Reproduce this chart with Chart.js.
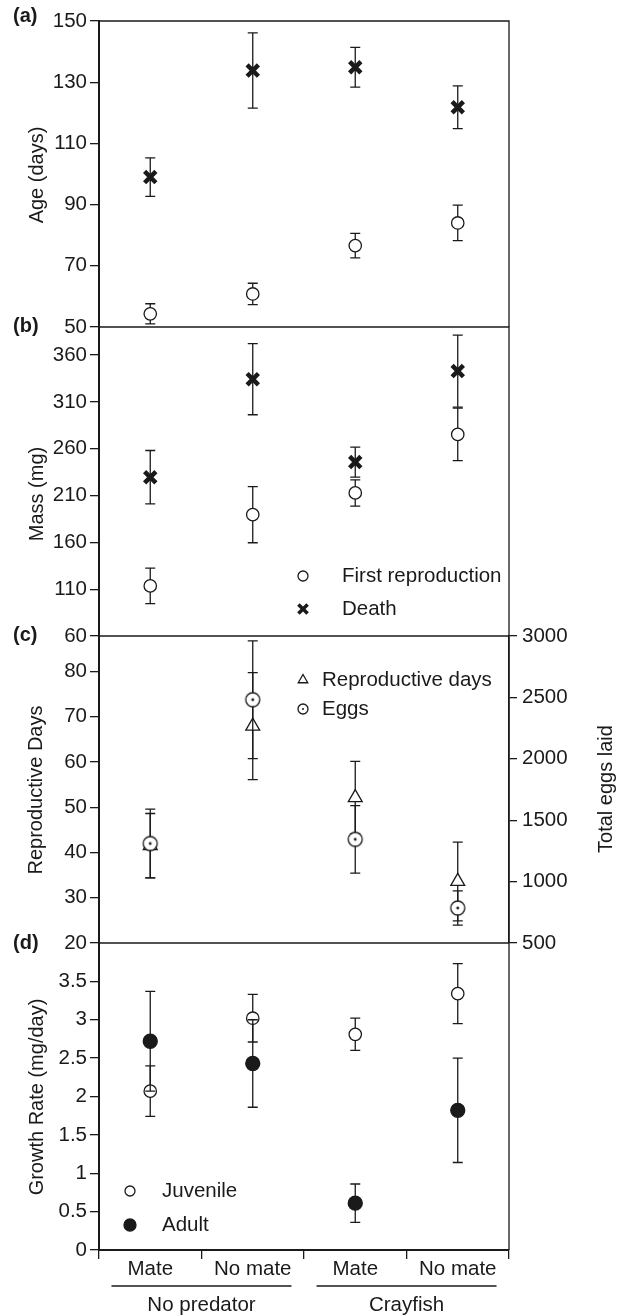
<!DOCTYPE html>
<html>
<head>
<meta charset="utf-8">
<script src="https://cdn.jsdelivr.net/npm/chart.js@4.4.1/dist/chart.umd.min.js"></script>
<style>
  html, body { margin: 0; padding: 0; background: #fff; }
  #wrap { position: relative; width: 621px; height: 1316px; overflow: hidden; }
  #wrap canvas { position: absolute; left: 0; top: 0; }
</style>
</head>
<body>
<div id="wrap">
  <canvas id="chartA" width="621" height="1316"></canvas>
  <canvas id="chartB" width="621" height="1316"></canvas>
  <canvas id="chartC" width="621" height="1316"></canvas>
  <canvas id="chartD" width="621" height="1316"></canvas>
</div>
<script>
// categories on the shared x axis
const categories = ['Mate', 'No mate', 'Mate', 'No mate'];
const groups = ['No predator', 'Crayfish'];

// (a) age in days
const ageFirstRepro = [54.3, 60.8, 76.6, 84.0];
const ageFirstReproErr = [3.3, 3.5, 4.0, 5.8];
const ageDeath = [99.0, 133.8, 134.9, 121.8];
const ageDeathErr = [6.3, 12.3, 6.5, 7.0];
const ageTicks = [50, 70, 90, 110, 130, 150];

// (b) mass in mg
const massFirstRepro = [113.5, 189.6, 212.8, 275.3];
const massFirstReproErr = [19, 30, 14, 28];
const massDeath = [229.6, 334.3, 245.7, 342.9];
const massDeathErr = [28.5, 38, 16, 38.5];
const massTicks = [60, 110, 160, 210, 260, 310, 360];

// (c) reproductive days + total eggs laid
const reproDays = [41.5, 67.9, 52.1, 33.6];
const reproDaysErr = [7.1, 11.8, 8.0, 8.7];
const eggsLaid = [1310, 2481, 1344, 785];
const eggsLaidErr = [280, 480, 275, 140];
const daysTicks = [20, 30, 40, 50, 60, 70, 80];
const eggTicks = [500, 1000, 1500, 2000, 2500, 3000];

// (d) growth rate mg/day
const growthJuvenile = [2.07, 3.02, 2.81, 3.34];
const growthJuvenileErr = [0.33, 0.31, 0.21, 0.39];
const growthAdult = [2.72, 2.43, 0.61, 1.82];
const growthAdultErr = [0.65, 0.57, 0.25, 0.68];
const growthTicks = [0, 0.5, 1, 1.5, 2, 2.5, 3, 3.5];

const INK = '#1a1a1a';
const FONT = "'Liberation Sans', Arial, Helvetica, sans-serif";
Chart.defaults.font.family = FONT;
Chart.defaults.color = INK;

// open circle with a dot in the middle (eggs marker)
function eggIcon(r) {
  const c = document.createElement('canvas');
  const s = Math.ceil(2 * r + 4);
  c.width = s; c.height = s;
  const g = c.getContext('2d');
  g.beginPath(); g.arc(s / 2, s / 2, r, 0, Math.PI * 2);
  g.fillStyle = '#fff'; g.fill();
  g.lineWidth = 1.3; g.strokeStyle = INK; g.stroke();
  g.beginPath(); g.arc(s / 2, s / 2, Math.max(1, r * 0.2), 0, Math.PI * 2);
  g.fillStyle = INK; g.fill();
  return c;
}
const eggBig = eggIcon(7);
const eggSmall = eggIcon(5);

// legend symbols, drawn by hand
function drawMarker(ctx, it) {
  const x = it.x, y = it.y, r = it.r;
  ctx.save();
  ctx.fillStyle = it.face ? INK : '#fff';
  ctx.strokeStyle = INK;
  ctx.lineWidth = it.bw || 1.3;
  if (typeof it.style !== 'string') {
    ctx.drawImage(it.style, x - it.style.width / 2, y - it.style.height / 2);
  } else if (it.style === 'circle') {
    ctx.beginPath(); ctx.arc(x, y, r, 0, Math.PI * 2);
    ctx.fill(); ctx.stroke();
  } else if (it.style === 'triangle') {
    ctx.beginPath();
    ctx.moveTo(x, y - r);
    ctx.lineTo(x + 0.866 * r, y + 0.5 * r);
    ctx.lineTo(x - 0.866 * r, y + 0.5 * r);
    ctx.closePath();
    ctx.fill(); ctx.stroke();
  } else if (it.style === 'crossRot') {
    const d = r * 0.707;
    ctx.beginPath();
    ctx.moveTo(x - d, y - d); ctx.lineTo(x + d, y + d);
    ctx.moveTo(x + d, y - d); ctx.lineTo(x - d, y + d);
    ctx.stroke();
  }
  ctx.restore();
}

// error bars, frame, panel letter, rotated titles, legend, grouping line
const panelDecor = {
  id: 'panelDecor',
  beforeDatasetDraw(chart, args) {
    const ds = chart.data.datasets[args.index];
    if (!ds.err) return;
    const ys = chart.scales[ds.yAxisID || 'y'];
    const ctx = chart.ctx;
    ctx.save();
    ctx.strokeStyle = INK;
    ctx.lineWidth = 1.3;
    args.meta.data.forEach((pt, i) => {
      const x = pt.x;
      const y1 = ys.getPixelForValue(ds.data[i] + ds.err[i]);
      const y2 = ys.getPixelForValue(ds.data[i] - ds.err[i]);
      ctx.beginPath();
      ctx.moveTo(x, y1); ctx.lineTo(x, y2);
      ctx.moveTo(x - 5, y1); ctx.lineTo(x + 5, y1);
      ctx.moveTo(x - 5, y2); ctx.lineTo(x + 5, y2);
      ctx.stroke();
    });
    ctx.restore();
  },
  afterDraw(chart, args, o) {
    const ctx = chart.ctx;
    const a = chart.chartArea;
    ctx.save();
    ctx.strokeStyle = INK;
    ctx.lineWidth = 1.3;
    ctx.beginPath();
    ctx.moveTo(a.left, a.top); ctx.lineTo(a.right, a.top); ctx.lineTo(a.right, a.bottom);
    ctx.stroke();

    ctx.fillStyle = INK;
    ctx.textBaseline = 'middle';
    if (o.tag) {
      ctx.font = 'bold 20px ' + FONT;
      ctx.textAlign = 'left';
      ctx.fillText(o.tag, 13, o.tagY);
    }
    (o.titles || []).forEach(t => {
      ctx.save();
      ctx.translate(t.x, t.y);
      ctx.rotate(-Math.PI / 2);
      ctx.font = '20px ' + FONT;
      ctx.textAlign = 'center';
      ctx.fillStyle = INK;
      ctx.fillText(t.text, 0, 0);
      ctx.restore();
    });
    (o.legend || []).forEach(it => {
      drawMarker(ctx, it);
      ctx.fillStyle = INK;
      ctx.font = '20.5px ' + FONT;
      ctx.textAlign = 'left';
      ctx.fillText(it.text, it.tx, it.y);
    });
    if (o.groups) {
      const xs = chart.scales.x;
      ctx.font = '20.5px ' + FONT;
      ctx.textAlign = 'center';
      ctx.lineWidth = 1.3;
      groups.forEach((g, k) => {
        const c = (xs.getPixelForValue(2 * k) + xs.getPixelForValue(2 * k + 1)) / 2;
        ctx.beginPath();
        ctx.moveTo(c - 90, 1286); ctx.lineTo(c + 90, 1286);
        ctx.stroke();
        ctx.fillText(g, c, 1305);
      });
    }
    ctx.restore();
  }
};

function leftAxis(min, max, tickVals) {
  return {
    position: 'left', min: min, max: max,
    afterBuildTicks: s => { s.ticks = tickVals.map(v => ({ value: v })); },
    afterFit: s => { s.width = 99; },
    border: { display: true, color: INK, width: 2 },
    grid: { drawOnChartArea: false, drawTicks: true, tickLength: 9, color: INK, lineWidth: 1.3 },
    ticks: { color: INK, font: { size: 20.5 }, padding: 3, autoSkip: false, callback: v => String(v) }
  };
}

function hiddenX() {
  return { type: 'category', labels: categories, offset: true, display: false };
}

function pointSet(label, data, err, order, style) {
  return Object.assign({
    label: label, data: data, err: err, order: order, showLine: false,
    pointBorderColor: INK, pointBackgroundColor: '#fff', pointBorderWidth: 1.3
  }, style);
}

const openCircle = { pointStyle: 'circle', pointRadius: 6.2, pointHoverRadius: 6.2 };
const boldX = { pointStyle: 'crossRot', pointRadius: 8, pointHoverRadius: 8, pointBorderWidth: 4.5, pointHoverBorderWidth: 4.5, pointBackgroundColor: INK };
const openTriangle = { pointStyle: 'triangle', pointRadius: 8, pointHoverRadius: 8 };
const eggMark = { pointStyle: eggBig, pointRadius: 7, pointHoverRadius: 7 };
const filledCircle = { pointStyle: 'circle', pointRadius: 7, pointHoverRadius: 7, pointBackgroundColor: INK };

const common = {
  responsive: false, animation: false, events: [], devicePixelRatio: 1
};

// (a)
new Chart(document.getElementById('chartA'), {
  type: 'line',
  data: {
    labels: categories,
    datasets: [
      pointSet('First reproduction', ageFirstRepro, ageFirstReproErr, 1, openCircle),
      pointSet('Death', ageDeath, ageDeathErr, 0, boldX)
    ]
  },
  options: Object.assign({}, common, {
    layout: { padding: { top: 21, bottom: 1316 - 327, left: 0, right: 112 } },
    scales: { x: hiddenX(), y: leftAxis(50, 150, ageTicks) },
    plugins: {
      legend: { display: false }, tooltip: { enabled: false },
      panelDecor: { tag: '(a)', tagY: 16, titles: [{ text: 'Age (days)', x: 37, y: 175 }] }
    }
  }),
  plugins: [panelDecor]
});

// (b)
new Chart(document.getElementById('chartB'), {
  type: 'line',
  data: {
    labels: categories,
    datasets: [
      pointSet('First reproduction', massFirstRepro, massFirstReproErr, 1, openCircle),
      pointSet('Death', massDeath, massDeathErr, 0, boldX)
    ]
  },
  options: Object.assign({}, common, {
    layout: { padding: { top: 327, bottom: 1316 - 636, left: 0, right: 112 } },
    scales: { x: hiddenX(), y: leftAxis(60, 390, massTicks) },
    plugins: {
      legend: { display: false }, tooltip: { enabled: false },
      panelDecor: {
        tag: '(b)', tagY: 326, titles: [{ text: 'Mass (mg)', x: 37, y: 494 }],
        legend: [
          { style: 'circle', r: 5, x: 303, y: 576, tx: 342, text: 'First reproduction' },
          { style: 'crossRot', r: 6.5, bw: 3.5, x: 303, y: 609, tx: 342, text: 'Death' }
        ]
      }
    }
  }),
  plugins: [panelDecor]
});

// (c)
new Chart(document.getElementById('chartC'), {
  type: 'line',
  data: {
    labels: categories,
    datasets: [
      pointSet('Reproductive days', reproDays, reproDaysErr, 1, openTriangle),
      Object.assign(pointSet('Eggs', eggsLaid, eggsLaidErr, 0, eggMark), { yAxisID: 'y2' })
    ]
  },
  options: Object.assign({}, common, {
    layout: { padding: { top: 636, bottom: 1316 - 943, left: 0, right: 0 } },
    scales: {
      x: hiddenX(),
      y: leftAxis(20, 87.8, daysTicks),
      y2: {
        position: 'right', min: 500, max: 3000,
        afterBuildTicks: s => { s.ticks = eggTicks.map(v => ({ value: v })); },
        afterFit: s => { s.width = 112; },
        border: { display: true, color: INK, width: 1.5 },
        grid: { drawOnChartArea: false, drawTicks: true, tickLength: 8, color: INK, lineWidth: 1.3 },
        ticks: { color: INK, font: { size: 20.5 }, padding: 5, autoSkip: false, callback: v => String(v) }
      }
    },
    plugins: {
      legend: { display: false }, tooltip: { enabled: false },
      panelDecor: {
        tag: '(c)', tagY: 635,
        titles: [{ text: 'Reproductive Days', x: 36, y: 790 }, { text: 'Total eggs laid', x: 606, y: 789 }],
        legend: [
          { style: 'triangle', r: 5.5, x: 303, y: 680, tx: 322, text: 'Reproductive days' },
          { style: eggSmall, r: 5, x: 303, y: 709, tx: 322, text: 'Eggs' }
        ]
      }
    }
  }),
  plugins: [panelDecor]
});

// (d)
new Chart(document.getElementById('chartD'), {
  type: 'line',
  data: {
    labels: categories,
    datasets: [
      pointSet('Juvenile', growthJuvenile, growthJuvenileErr, 1, openCircle),
      pointSet('Adult', growthAdult, growthAdultErr, 0, filledCircle)
    ]
  },
  options: Object.assign({}, common, {
    layout: { padding: { top: 943, bottom: 0, left: 0, right: 112 } },
    scales: {
      x: {
        type: 'category', labels: categories, offset: true,
        afterFit: s => { s.height = 66; },
        border: { display: true, color: INK, width: 2 },
        grid: { offset: true, drawOnChartArea: false, drawTicks: true, tickLength: 9, color: INK, lineWidth: 1.3 },
        ticks: { color: INK, font: { size: 20.5, lineHeight: 1 }, padding: 0, maxRotation: 0, autoSkip: false }
      },
      y: leftAxis(0, 4, growthTicks)
    },
    plugins: {
      legend: { display: false }, tooltip: { enabled: false },
      panelDecor: {
        tag: '(d)', tagY: 943, groups: true,
        titles: [{ text: 'Growth Rate (mg/day)', x: 37, y: 1097 }],
        legend: [
          { style: 'circle', r: 5, x: 130, y: 1191, tx: 162, text: 'Juvenile' },
          { style: 'circle', r: 6, face: true, x: 130, y: 1225, tx: 162, text: 'Adult' }
        ]
      }
    }
  }),
  plugins: [panelDecor]
});
</script>
</body>
</html>
